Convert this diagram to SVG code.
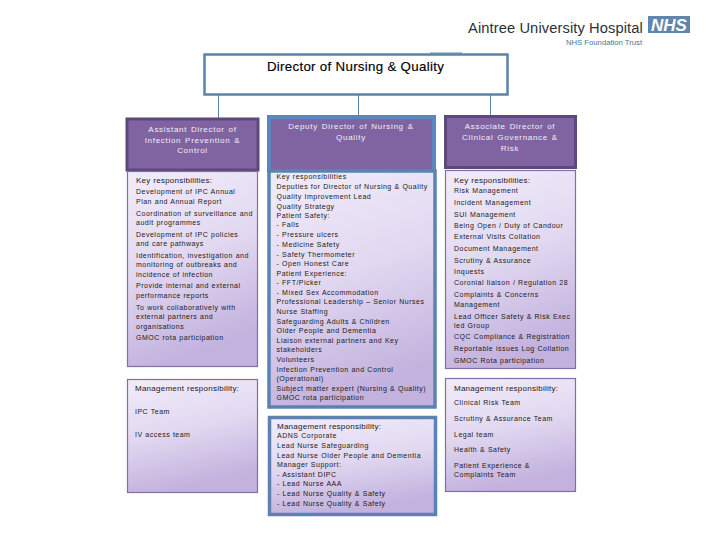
<svg xmlns="http://www.w3.org/2000/svg" width="720" height="540" viewBox="0 0 720 540">
<defs>
<linearGradient id="lav" x1="0" y1="0" x2="0.25" y2="1"><stop offset="0" stop-color="#f1ecfa"/><stop offset="0.5" stop-color="#e2d9f1"/><stop offset="1" stop-color="#c3b2de"/></linearGradient>
</defs>
<style>
text{font-family:"Liberation Sans",Arial,sans-serif}
.t{font-size:7px;letter-spacing:.5px;word-spacing:.3px;fill:#1a1a1a}
.k{font-size:8px;letter-spacing:.25px;word-spacing:.3px;fill:#1a1a1a}
.h{font-size:8px;letter-spacing:.7px;fill:#f2eef7;text-anchor:middle;word-spacing:1px}
.bh{fill:#8064a2;stroke:#5f497a;stroke-width:3}
.hb{fill:#8064a2;stroke:#5b86bf;stroke-width:4}
.bp{fill:url(#lav);stroke:#80709f;stroke-width:1.2}
.bb{fill:url(#lav);stroke:#5a83b3;stroke-width:3.5}
.c{stroke:#5b87a3;stroke-width:1;fill:none}
</style>
<rect width="720" height="540" fill="#fff"/>
<g id="connectors">
<path class="c" d="M218.500 95V118M358.500 95V116M490.500 95V116"/>
<path d="M430 53H462" stroke="#5b87a3" stroke-width="1" fill="none"/>
</g>
<g id="logo">
<text x="468" y="33" font-size="14.700" fill="#2a3138" letter-spacing=".1">Aintree University Hospital</text>
<rect x="648" y="16" width="42" height="17" fill="#5f86ad"/>
<text x="669" y="31" font-size="17" font-weight="bold" font-style="italic" fill="#fff" text-anchor="middle">NHS</text>
<text x="566" y="45" font-size="7.700" fill="#3d7a9c">NHS Foundation Trust</text>
</g>
<g id="director">
<rect x="204.500" y="54.500" width="303" height="40" fill="#fff" stroke="#5a83a8" stroke-width="2.500"/>
<text x="355.500" y="71" font-size="13.300" text-anchor="middle" fill="#000" letter-spacing=".3" stroke="#000" stroke-width=".15">Director of Nursing &amp; Quality</text>
</g>
<g id="assistant-header">
<rect class="bh" x="127" y="119" width="131" height="51"/>
<text class="h" x="192.500" y="132">Assistant Director of</text>
<text class="h" x="192.500" y="143">Infection Prevention &amp;</text>
<text class="h" x="192.500" y="153">Control</text>
</g>
<g id="assistant-key">
<rect class="bp" x="127.500" y="171.500" width="130" height="195"/>
<text class="k" x="136" y="183">Key responsibilities:</text>
<text class="t" x="136" y="193.500">Development of IPC Annual</text>
<text class="t" x="136" y="203.500">Plan and Annual Report</text>
<text class="t" x="136" y="216">Coordination of surveillance and</text>
<text class="t" x="136" y="225">audit programmes</text>
<text class="t" x="136" y="237">Development of IPC policies</text>
<text class="t" x="136" y="246">and care pathways</text>
<text class="t" x="136" y="258">Identification, investigation and</text>
<text class="t" x="136" y="267">monitoring of outbreaks and</text>
<text class="t" x="136" y="277">incidence of infection</text>
<text class="t" x="136" y="287.500">Provide internal and external</text>
<text class="t" x="136" y="298">performance reports</text>
<text class="t" x="136" y="310">To work collaboratively with</text>
<text class="t" x="136" y="319">external partners and</text>
<text class="t" x="136" y="329">organisations</text>
<text class="t" x="136" y="340">GMOC rota participation</text>
</g>
<g id="assistant-management">
<rect class="bp" x="127.500" y="379.500" width="130" height="113"/>
<text class="k" x="135" y="391">Management responsibility:</text>
<text class="t" x="135" y="414">IPC Team</text>
<text class="t" x="135" y="437">IV access team</text>
</g>
<g id="deputy-header">
<rect class="hb" x="269" y="117" width="165" height="54"/>
<text class="h" x="351" y="129">Deputy Director of Nursing &amp;</text>
<text class="h" x="351" y="140">Quality</text>
</g>
<g id="deputy-key">
<rect class="bb" x="269" y="171" width="166" height="236"/>
<text class="t" x="276.500" y="179.300">Key responsibilities</text>
<text class="t" x="276.500" y="189.300">Deputies for Director of Nursing &amp; Quality</text>
<text class="t" x="276.500" y="199">Quality Improvement Lead</text>
<text class="t" x="276.500" y="208.700">Quality Strategy</text>
<text class="t" x="276.500" y="218.300">Patient Safety:</text>
<text class="t" x="276.500" y="227.300">- Falls</text>
<text class="t" x="276.500" y="237.300">- Pressure ulcers</text>
<text class="t" x="276.500" y="247.300">- Medicine Safety</text>
<text class="t" x="276.500" y="256.700">- Safety Thermometer</text>
<text class="t" x="276.500" y="266.300">- Open Honest Care</text>
<text class="t" x="276.500" y="275.700">Patient Experience:</text>
<text class="t" x="276.500" y="285.300">- FFT/Picker</text>
<text class="t" x="276.500" y="295">- Mixed Sex Accommodation</text>
<text class="t" x="276.500" y="304.300">Professional Leadership – Senior Nurses</text>
<text class="t" x="276.500" y="314.300">Nurse Staffing</text>
<text class="t" x="276.500" y="323.700">Safeguarding Adults &amp; Children</text>
<text class="t" x="276.500" y="333.300">Older People and Dementia</text>
<text class="t" x="276.500" y="343.300">Liaison external partners and Key</text>
<text class="t" x="276.500" y="352.300">stakeholders</text>
<text class="t" x="276.500" y="362.300">Volunteers</text>
<text class="t" x="276.500" y="371.700">Infection Prevention and Control</text>
<text class="t" x="276.500" y="381.300">(Operational)</text>
<text class="t" x="276.500" y="391.300">Subject matter expert (Nursing &amp; Quality)</text>
<text class="t" x="276.500" y="400.300">GMOC rota participation</text>
</g>
<g id="deputy-management">
<rect class="bb" x="269.500" y="417.500" width="166" height="97"/>
<text class="k" x="277" y="429.300">Management responsibility:</text>
<text class="t" x="277" y="438.300">ADNS Corporate</text>
<text class="t" x="277" y="448.300">Lead Nurse Safeguarding</text>
<text class="t" x="277" y="458">Lead Nurse Older People and Dementia</text>
<text class="t" x="277" y="467.300">Manager Support:</text>
<text class="t" x="277" y="477">- Assistant DIPC</text>
<text class="t" x="277" y="486.300">- Lead Nurse AAA</text>
<text class="t" x="277" y="496.300">- Lead Nurse Quality &amp; Safety</text>
<text class="t" x="277" y="506.300">- Lead Nurse Quality &amp; Safety</text>
</g>
<g id="associate-header">
<rect class="bh" x="445.500" y="116.500" width="130" height="51"/>
<text class="h" x="510" y="129">Associate Director of</text>
<text class="h" x="510" y="140">Clinical Governance &amp;</text>
<text class="h" x="510" y="151">Risk</text>
</g>
<g id="associate-key">
<rect class="bp" x="445.500" y="170.500" width="130" height="198"/>
<text class="k" x="454" y="182.700">Key responsibilities:</text>
<text class="t" x="454" y="193.300">Risk Management</text>
<text class="t" x="454" y="205.300">Incident Management</text>
<text class="t" x="454" y="216.700">SUI Management</text>
<text class="t" x="454" y="228.300">Being Open / Duty of Candour</text>
<text class="t" x="454" y="239.300">External Visits Collation</text>
<text class="t" x="454" y="251.300">Document Management</text>
<text class="t" x="454" y="262.700">Scrutiny &amp; Assurance</text>
<text class="t" x="454" y="274.300">Inquests</text>
<text class="t" x="454" y="285.300">Coronial liaison / Regulation 28</text>
<text class="t" x="454" y="297.300">Complaints &amp; Concerns</text>
<text class="t" x="454" y="307">Management</text>
<text class="t" x="454" y="318.700">Lead Officer Safety &amp; Risk Exec</text>
<text class="t" x="454" y="328.300">led Group</text>
<text class="t" x="454" y="339.300">CQC Compliance &amp; Registration</text>
<text class="t" x="454" y="351.300">Reportable issues Log Collation</text>
<text class="t" x="454" y="362.700">GMOC Rota participation</text>
</g>
<g id="associate-management">
<rect class="bp" x="445.500" y="378.500" width="130" height="113"/>
<text class="k" x="454" y="391.300">Management responsibility:</text>
<text class="t" x="454" y="405.300">Clinical Risk Team</text>
<text class="t" x="454" y="421.300">Scrutiny &amp; Assurance Team</text>
<text class="t" x="454" y="437.300">Legal team</text>
<text class="t" x="454" y="452.300">Health &amp; Safety</text>
<text class="t" x="454" y="468">Patient Experience &amp;</text>
<text class="t" x="454" y="477.300">Complaints Team</text>
</g>
</svg>
